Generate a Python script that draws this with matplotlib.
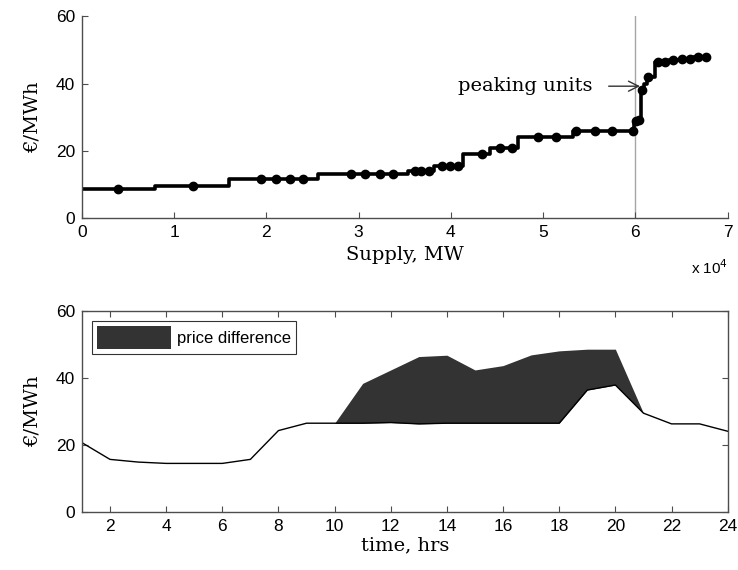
import numpy as np
import matplotlib
matplotlib.use("Agg")
import matplotlib.pyplot as plt
from matplotlib.patches import Patch
from matplotlib.ticker import FuncFormatter

# Merit-order supply curve: block edges (MW) and block prices (EUR/MWh)
block_edges = np.array([0, 7900, 15900, 25600, 35300, 38200, 41300, 44200,
                        47300, 53200, 59900, 60300, 60600, 60900, 61300,
                        62100, 63600, 65000, 66200, 67800])
block_price = np.array([8.6, 9.5, 11.5, 13.1, 14.0, 15.5, 18.9, 20.8,
                        24.0, 26.0, 28.8, 29.2, 38.2, 40.0, 41.8,
                        46.3, 46.9, 47.3, 47.8])

# Individual generating units along the curve
unit_mw = np.array([3900, 12000, 19400, 21000, 22600, 24000, 29200, 30700,
                    32300, 33700, 36100, 36800, 37600, 39000, 39900, 40800,
                    43400, 45300, 46600, 49400, 51400, 53600, 55600, 57500,
                    59700, 60100, 60400, 60700, 61400, 62500, 63200, 64100,
                    65000, 65900, 66800, 67700])
unit_price = block_price[np.clip(np.searchsorted(block_edges, unit_mw, side="right") - 1,
                                 0, len(block_price) - 1)]

# Hourly prices: base and with peaking units
hours = np.arange(1, 25)
price_base = np.array([20.7, 15.7, 14.9, 14.5, 14.5, 14.5, 15.7, 24.3, 26.5, 26.5,
                       26.5, 26.7, 26.3, 26.5, 26.5, 26.5, 26.5, 26.5, 36.4, 37.9,
                       29.5, 26.3, 26.3, 24.1])
price_peak = np.array([20.7, 15.7, 14.9, 14.5, 14.5, 14.5, 15.7, 24.3, 26.5, 26.5,
                       38.4, 42.4, 46.4, 46.8, 42.4, 43.7, 46.9, 48.1, 48.6, 48.6,
                       29.5, 26.3, 26.3, 24.1])

sans = "Liberation Sans"
serif = "DejaVu Serif"
axis_col = "0.3"

fig = plt.figure(figsize=(7.38, 5.70), dpi=100)

# ---- supply curve ----
ax1 = fig.add_axes([0.111, 0.6175, 0.875, 0.354])
ax1.step(block_edges, np.r_[block_price, block_price[-1]], where="post",
         color="black", lw=2.6)
ax1.plot(unit_mw, unit_price, "o", color="black", ms=6)
ax1.axvline(60000, color="0.65", lw=1.0, zorder=0)
ax1.text(55300, 39.2, "peaking units", ha="right", va="center",
         fontsize=14, family=serif)
ax1.annotate("", xy=(60500, 39.2), xytext=(57100, 39.2),
             arrowprops=dict(arrowstyle="->", color="0.2", lw=1.0,
                             mutation_scale=18, shrinkA=0, shrinkB=0))
ax1.set_xlim(0, 70000)
ax1.set_ylim(0, 60)
ax1.set_xticks(np.arange(0, 70001, 10000))
ax1.xaxis.set_major_formatter(FuncFormatter(lambda v, p: f"{v / 1e4:g}"))
ax1.set_yticks([0, 20, 40, 60])
ax1.spines["top"].set_visible(False)
ax1.spines["right"].set_visible(False)
ax1.set_xlabel("Supply, MW", family=serif, fontsize=14, labelpad=4)
ax1.set_ylabel("€/MWh", family=serif, fontsize=14, labelpad=10)
ax1.text(1.0, -0.245, "x 10$^4$", transform=ax1.transAxes, ha="right", va="center",
         fontsize=11, family=sans)

# ---- hourly prices ----
ax2 = fig.add_axes([0.111, 0.1018, 0.875, 0.3526])
ax2.fill_between(hours, price_base, price_peak, where=price_peak > price_base,
                 color="#333333", lw=0, interpolate=True)
ax2.plot(hours, price_base, color="black", lw=1.0)
ax2.set_xlim(1, 24)
ax2.set_ylim(0, 60)
ax2.set_xticks(np.arange(2, 25, 2))
ax2.set_yticks([0, 20, 40, 60])
ax2.set_xlabel("time, hrs", family=serif, fontsize=14, labelpad=2)
ax2.set_ylabel("€/MWh", family=serif, fontsize=14, labelpad=10)
ax2.tick_params(top=True, right=True)
leg = ax2.legend([Patch(facecolor="#333333")], ["price difference"],
                 loc="upper left", bbox_to_anchor=(0.016, 0.95), fancybox=False,
                 frameon=True, edgecolor="black", prop=dict(family=sans, size=12),
                 handlelength=4.4, handleheight=1.7, borderpad=0.3,
                 handletextpad=0.4, borderaxespad=0)
leg.get_frame().set_linewidth(0.8)

for ax in (ax1, ax2):
    ax.tick_params(direction="in", length=4, width=0.8, color=axis_col,
                   labelsize=12.5, pad=5)
    for lab in ax.get_xticklabels() + ax.get_yticklabels():
        lab.set_family(sans)
    for s in ax.spines.values():
        s.set_color(axis_col)
        s.set_linewidth(1.0)

fig.savefig("out.png", dpi=100)
